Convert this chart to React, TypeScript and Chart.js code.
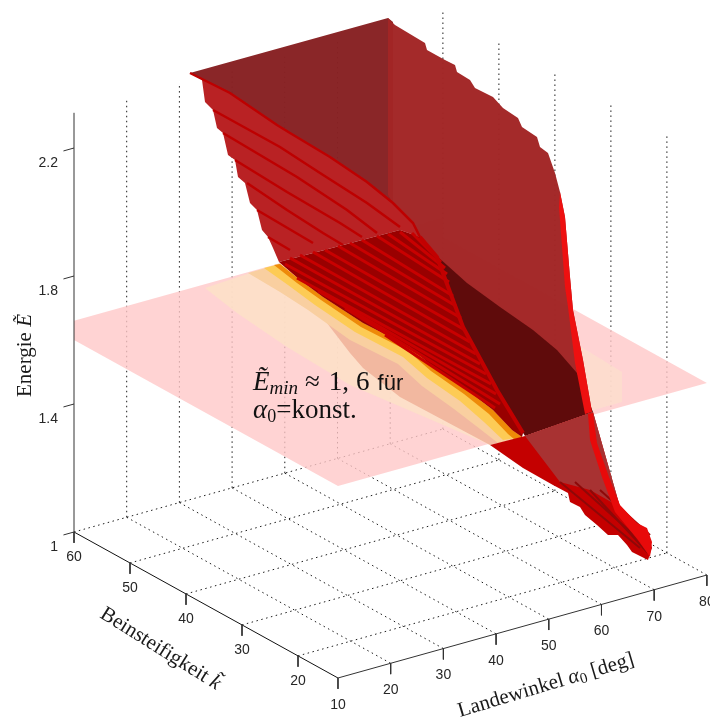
import React, { useEffect, useRef } from "react";
import { Chart, registerables } from "chart.js";

Chart.register(...registerables);

// ---- real axis values ----
const alphaTicks = [10, 20, 30, 40, 50, 60, 70, 80];
const kTicks = [60, 50, 40, 30, 20];
const energyTicks = [1, 1.4, 1.8, 2.2];
const energyTickLabels = ["1", "1.4", "1.8", "2.2"];
const alphaMin = 10, alphaMax = 80, kMax = 60, kMin = 12.86, eMin = 1, eMax = 2.31;
const minEnergyBack = 1.66, minEnergy = 1.6;

// ---- surface sheets in the projected view plane [u, v] ----
const brownBack = [[190,73],[388,18],[393,22],[393,205],[367,182],[330,157],[290,133],[277,125],[230,93]];
const brownFront = [[388,18],[395,25],[425,43],[427,50],[445,60],[455,65],[457,72],[470,80],[475,88],[493,97],[503,108],[518,118],[522,127],[537,137],[540,147],[548,153],[555,173],[560,192],[565,217],[570,277],[573,310],[583,360],[592,412],[533,400],[438,257],[420,237],[413,223],[393,203],[388,195]];
const stripeSheet = [[190,73],[230,93],[277,125],[290,133],[330,157],[367,182],[393,203],[413,223],[420,237],[400,230],[279,262],[273,248],[268,237],[262,230],[257,210],[250,203],[245,183],[238,177],[235,160],[228,155],[223,133],[217,128],[213,110],[205,102],[202,80]];
const stripeLines = [
  [[190,73],[230,93],[277,125],[290,133],[330,157],[367,182],[393,203],[413,223],[420,237]],
  [[213,110],[280,147],[320,173],[367,203],[400,227]],
  [[223,133],[297,177],[347,210],[377,233]],
  [[235,160],[287,192],[340,223],[362,237]],
  [[247,183],[287,210],[323,233],[343,245]],
  [[257,210],[313,243]],
  [[268,237],[290,250]],
];
const darkSheet = [[279,262],[400,230],[420,237],[437,257],[463,327],[497,390],[523,433],[522,437],[512,430],[493,410],[467,390],[433,367],[410,347],[363,323],[323,297],[300,280]];
const darkLines = [
  [[412,233],[441,262]],
  [[400,232],[445,268]],
  [[388,234],[447,274]],
  [[377,236],[449,282]],
  [[362,240],[453,296]],
  [[350,243],[456,306]],
  [[338,246],[461,318]],
  [[325,250],[465,330]],
  [[313,252],[470,342]],
  [[300,255],[476,354]],
  [[290,258],[480,364]],
  [[285,264],[486,374]],
  [[297,278],[491,384]],
  [[318,291],[496,394]],
  [[345,308],[500,404]],
  [[385,335],[495,408]],
];
const creaseLine = [[420,237],[437,257],[463,327],[497,390],[523,433]];
const maroonSheet = [[438,257],[467,283],[500,307],[533,330],[557,350],[577,373],[593,412],[525,436],[497,390],[463,327]];
const redEdgeUpper = [[560,192],[565,217],[570,277],[573,310],[583,360],[592,412],[585,414],[575,363],[568,307],[565,287],[559,207]];
const lowerTriangle = [[490,445],[525,436],[593,412],[620,507],[650,540],[652,548],[648,560],[632,552],[627,545],[618,535],[608,535],[597,525],[585,515],[580,507],[570,502],[568,493],[553,485],[523,468]];
const lowerBrown = [[525,436],[593,412],[620,507],[590,490],[560,482]];
const lowerRedEdge = [[588,414],[593,413],[597,443],[609,477],[620,505],[637,523],[647,528],[652,542],[650,557],[638,540],[615,512],[602,477],[590,440]];
const tipLines = [[[560,482],[640,548]],[[575,482],[645,545]],[[590,490],[648,553]],[[600,490],[650,535]]];
const peachOuter = [[205,288],[280,263],[522,437],[490,445],[350,385],[287,347],[237,313]];
const salmonOuter = [[303,295],[315,307],[330,327],[350,353],[363,368],[400,397],[490,445],[522,437],[430,350],[330,290]];
const valleyEdge = [[280,264],[300,280],[323,297],[363,323],[410,347],[433,367],[467,390],[493,410],[512,430],[522,437]];
const orangeOuter = [[274,265],[297,283],[321,300],[361,327],[408,351],[431,371],[464,394],[489,414],[508,434],[515,440]];
const yellowOuter = [[264,268],[288,285],[315,305],[355,332],[403,357],[427,378],[460,401],[484,422],[503,440]];
const paleOuter = [[248,273],[280,292],[308,310],[350,340],[398,364],[422,386],[454,409],[480,429],[498,443]];
const peachRight = [[578,345],[622,372],[622,402],[590,411]];

type Pt = { x: number; y: number };
const project = (alpha: number, k: number, e: number): Pt => ({
  x: 74 + (alpha - 10) * 5.27 + (60 - k) * 5.6,
  y: 532 - (alpha - 10) * 1.471 + (60 - k) * 3.097 - (e - 1) * 320,
});
const toPts = (a: number[][]): Pt[] => a.map(([x, y]) => ({ x, y }));

const poly = (pts: Pt[], color: string) => ({
  data: [...pts, pts[0]], borderWidth: 0, borderColor: color, backgroundColor: color, fill: "shape",
  showLine: true, pointRadius: 0, tension: 0,
});
const line = (pts: Pt[], color: string, width = 1, dash: number[] = []) => ({
  data: pts, borderWidth: width, borderColor: color, borderDash: dash, fill: false,
  showLine: true, pointRadius: 0, tension: 0,
});
const band = (outer: number[][], inner: number[][], color: string) =>
  poly([...toPts(inner), ...toPts(outer).reverse()], color);

function buildDatasets() {
  const ds: any[] = [];
  const dot = "#1c1c1c", dash = [1.5, 3.5];
  // floor grid
  for (const a of alphaTicks.slice(1))
    ds.push(line([project(a, kMax, eMin), project(a, kMin, eMin)], dot, 1, dash));
  for (const k of kTicks)
    ds.push(line([project(alphaMin, k, eMin), project(alphaMax, k, eMin)], dot, 1, dash));
  // wall verticals
  for (const a of alphaTicks.slice(1))
    ds.push(line([project(a, kMax, eMin), project(a, kMax, eMax)], dot, 1, dash));
  for (const k of kTicks.slice(1))
    ds.push(line([project(alphaMax, k, eMin), project(alphaMax, k, eMax)], dot, 1, dash));
  // minimum energy plane
  ds.push(poly([
    project(alphaMin, kMax, minEnergyBack), project(alphaMin, kMax, minEnergy),
    project(alphaMin, kMin, minEnergy), project(alphaMax, kMin, minEnergy),
    project(alphaMax, kMax, minEnergy), project(alphaMax, kMax, minEnergyBack),
  ], "rgba(255,200,200,0.8)"));
  ds.push(poly(toPts(peachOuter), "rgba(253,224,200,0.9)"));
  ds.push(poly(toPts(peachRight), "rgba(252,222,205,0.8)"));
  ds.push(poly(toPts(salmonOuter), "#f2b8a0"));
  ds.push(band(paleOuter, valleyEdge, "#f9cfa0"));
  ds.push(band(yellowOuter, valleyEdge, "#fdcb55"));
  ds.push(band(orangeOuter, valleyEdge, "#ee8a08"));
  // surface
  ds.push(poly(toPts(brownBack), "rgba(136,34,36,0.98)"));
  ds.push(poly(toPts(brownFront), "rgba(162,38,38,0.98)"));
  ds.push(poly(toPts(stripeSheet), "#b92224"));
  for (const l of stripeLines) ds.push(line(toPts(l), "#bd0000", 2.5));
  ds.push(poly(toPts(maroonSheet), "#5f0b0b"));
  ds.push(poly(toPts(darkSheet), "#990000"));
  for (const l of darkLines) ds.push(line(toPts(l), "#c80000", 3));
  ds.push(line(toPts(creaseLine), "#c20000", 4));
  ds.push(poly(toPts(redEdgeUpper), "#ee1010"));
  ds.push(poly(toPts(lowerTriangle), "#c40000"));
  ds.push(poly(toPts(lowerBrown), "#a83232"));
  for (const l of tipLines) ds.push(line(toPts(l), "#8e0808", 2));
  ds.push(poly(toPts(lowerRedEdge), "#e80a0a"));
  // axes
  const ax = "#333333";
  ds.push(line([project(alphaMin, kMax, eMin), project(alphaMin, kMax, eMax)], ax));
  ds.push(line([project(alphaMin, kMax, eMin), project(alphaMin, kMin, eMin)], "#111111"));
  ds.push(line([project(alphaMin, kMin, eMin), project(alphaMax, kMin, eMin)], ax));
  const tickDrop = 0.034;
  for (const a of alphaTicks)
    ds.push(line([project(a, kMin, eMin), project(a, kMin, eMin - tickDrop)], ax));
  for (const k of kTicks)
    ds.push(line([project(alphaMin, k, eMin), project(alphaMin, k, eMin - tickDrop)], ax));
  for (const e of energyTicks)
    ds.push(line([project(alphaMin, kMax, e), project(alphaMin - 2, kMax, e)], ax));
  return ds.map((d, i, arr) => ({ ...d, order: arr.length - i }));
}

const SERIF = '"Liberation Serif"';
const SANS = '"Liberation Sans"';

type Run = { t: string; font: string; dy?: number; gap?: number };
const textPlugin = {
  id: "texts",
  afterDatasetsDraw(chart: any) {
    const c: CanvasRenderingContext2D = chart.ctx;
    const sx = (v: number) => chart.scales.x.getPixelForValue(v);
    const sy = (v: number) => chart.scales.y.getPixelForValue(v);
    const runs = (rs: Run[], x: number, y: number, angle: number, color = "#1a1a1a") => {
      c.save();
      c.translate(sx(x), sy(y));
      c.rotate((angle * Math.PI) / 180);
      c.fillStyle = color;
      c.textAlign = "left";
      c.textBaseline = "alphabetic";
      let px = 0;
      for (const r of rs) {
        c.font = r.font;
        px += r.gap ?? 0;
        c.fillText(r.t, px, r.dy ?? 0);
        px += c.measureText(r.t).width;
      }
      c.restore();
    };
    const tick = (s: string, x: number, y: number, align: CanvasTextAlign) => {
      c.save();
      c.font = `14px ${SANS}`;
      c.fillStyle = "#262626";
      c.textAlign = align;
      c.textBaseline = "middle";
      c.fillText(s, sx(x), sy(y));
      c.restore();
    };
    c.save();
    alphaTicks.forEach((a) => {
      const p = project(a, kMin, eMin);
      tick(String(a), p.x, p.y + 27, "center");
    });
    kTicks.forEach((k) => {
      const p = project(alphaMin, k, eMin);
      tick(String(k), p.x, p.y + 25, "center");
    });
    energyTicks.forEach((e, i) => {
      const p = project(alphaMin, kMax, e);
      tick(energyTickLabels[i], p.x - 16, p.y + 15, "right");
    });
    c.restore();
    const title = `21px ${SERIF}`;
    const titleIt = `italic 21px ${SERIF}`;
    runs([{ t: "Energie ", font: title }, { t: "Ẽ", font: titleIt }], 31, 397, -90);
    runs([{ t: "Beinsteifigkeit ", font: title }, { t: "k̃", font: titleIt }], 99, 617, 32);
    runs([
      { t: "Landewinkel ", font: title }, { t: "α", font: titleIt },
      { t: "0", font: `15px ${SERIF}`, dy: 3 }, { t: " [deg]", font: title },
    ], 460, 717, -16.7);
    const big = `27px ${SERIF}`;
    runs([
      { t: "Ẽ", font: `italic 27px ${SERIF}` },
      { t: "min", font: `italic 19px ${SERIF}`, dy: 4 },
      { t: "≈", font: big, gap: 7 },
      { t: "1,", font: big, gap: 9 },
      { t: "6", font: big, gap: 7 },
      { t: "für", font: `22px ${SANS}`, gap: 8 },
    ], 253, 390, 0, "#111111");
    runs([
      { t: "α", font: `italic 27px ${SERIF}` },
      { t: "0", font: `18px ${SERIF}`, dy: 4 },
      { t: "=konst.", font: big },
    ], 253, 418, 0, "#111111");
  },
};

export default function App() {
  const ref = useRef<HTMLCanvasElement>(null);
  useEffect(() => {
    const chart = new Chart(ref.current as HTMLCanvasElement, {
      type: "scatter",
      data: { datasets: buildDatasets() },
      options: {
        animation: false,
        responsive: false,
        layout: { padding: 0 },
        plugins: { legend: { display: false }, tooltip: { enabled: false }, title: { display: false } },
        scales: {
          x: { type: "linear", min: 0, max: 710, display: false },
          y: { type: "linear", min: 0, max: 719, reverse: true, display: false },
        },
      },
      plugins: [textPlugin],
    } as any);
    return () => chart.destroy();
  }, []);
  return (
    <div style={{ position: "absolute", left: 0, top: 0, width: 710, height: 719, background: "#fff" }}>
      <canvas ref={ref} width={710} height={719} style={{ display: "block" }} />
    </div>
  );
}
